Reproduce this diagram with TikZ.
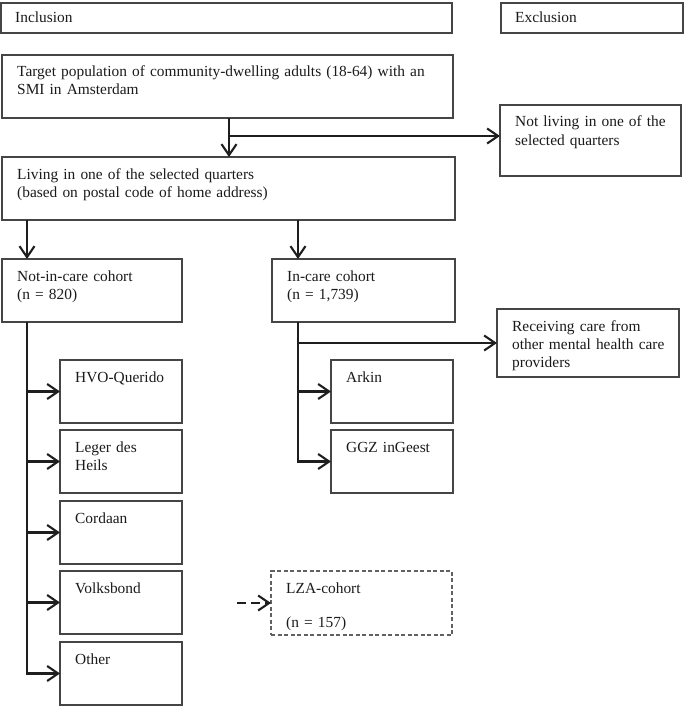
\documentclass[tikz,border=0pt]{standalone}
\usepackage{fontspec}
\setmainfont{Liberation Serif}
\usetikzlibrary{arrows.meta}
\definecolor{boxgray}{HTML}{454545}
\definecolor{arrowcol}{HTML}{1E1E1E}
\definecolor{txtcol}{HTML}{1A1A1A}
\begin{document}
\begin{tikzpicture}[x=1pt,y=-1pt,
  box/.style args={#1/#2}{draw=boxgray, line width=1.3pt, minimum width=#1pt, minimum height=#2pt,
    anchor=north west, inner sep=0pt, outer sep=0pt},
  dbox/.style args={#1/#2}{box=#1/#2, draw=boxgray!85, line width=1.2pt, dash pattern=on 4pt off 2.5pt},
  txt/.style={anchor=base west, inner sep=0pt, text width=#1pt, align=left, text=txtcol,
    font=\fontsize{15.4}{18}\selectfont},
  ln/.style={draw=arrowcol, line width=2.1pt},
  arr/.style={ln, -{Straight Barb[length=11pt,width=15pt,line width=2.1pt]}},
  darr/.style={arr, dash pattern=on 9pt off 5pt}
]
\useasboundingbox (0,0) rectangle (685,706);

% boxes
\node[box=451/30] (inc) at (1,3) {};
\node[box=182/30] (exc) at (501,3) {};
\node[box=451/63] (tp) at (2,55) {};
\node[box=181/71] (nl) at (500,105) {};
\node[box=453/63] (lv) at (2,157) {};
\node[box=180/63] (nic) at (2,259) {};
\node[box=183/63] (ic) at (272,259) {};
\node[box=182/68] (rc) at (497,309) {};
\node[box=122/63] (hvo) at (60,360) {};
\node[box=122/63] (leg) at (60,430) {};
\node[box=122/63] (cor) at (60,501) {};
\node[box=122/63] (vol) at (60,571) {};
\node[box=122/63] (oth) at (60,642) {};
\node[box=122/63] (ark) at (331,360) {};
\node[box=122/63] (ggz) at (331,430) {};
\node[dbox=181/64] (lza) at (271,571) {};

% texts
\node[txt=420] (inct) at ([xshift=14pt,yshift=-20pt]inc.north west) {Inclusion};
\node[txt=160] (exct) at ([xshift=14pt,yshift=-20pt]exc.north west) {Exclusion};
\node[txt=430] (tpt) at ([xshift=15pt,yshift=-22pt]tp.north west) {Target population of community-dwelling adults (18-64) with an\\SMI in Amsterdam};
\node[txt=165] (nlt) at ([xshift=15pt,yshift=-22pt]nl.north west) {Not living in one of the\\selected quarters};
\node[txt=430] (lvt) at ([xshift=15pt,yshift=-22pt]lv.north west) {Living in one of the selected quarters\\(based on postal code of home address)};
\node[txt=160] (nict) at ([xshift=15pt,yshift=-22pt]nic.north west) {Not-in-care cohort\\(n = 820)};
\node[txt=160] (ict) at ([xshift=15pt,yshift=-22pt]ic.north west) {In-care cohort\\(n = 1,739)};
\node[txt=165] (rct) at ([xshift=15pt,yshift=-22pt]rc.north west) {Receiving care from\\other mental health care\\providers};
\node[txt=105] (hvot) at ([xshift=15pt,yshift=-22pt]hvo.north west) {HVO-Querido};
\node[txt=105] (legt) at ([xshift=15pt,yshift=-22pt]leg.north west) {Leger des\\Heils};
\node[txt=105] (cort) at ([xshift=15pt,yshift=-22pt]cor.north west) {Cordaan};
\node[txt=105] (volt) at ([xshift=15pt,yshift=-22pt]vol.north west) {Volksbond};
\node[txt=105] (otht) at ([xshift=15pt,yshift=-22pt]oth.north west) {Other};
\node[txt=105] (arkt) at ([xshift=15pt,yshift=-22pt]ark.north west) {Arkin};
\node[txt=105] (ggzt) at ([xshift=15pt,yshift=-22pt]ggz.north west) {GGZ inGeest};
\node[txt=160] (lzat) at ([xshift=15pt,yshift=-22pt]lza.north west) {LZA-cohort\\[16pt](n = 157)};

% connector coordinates
\coordinate (br) at (229,136);
\coordinate (sL) at (27,0);
\coordinate (sR) at (298,0);
\coordinate (dz) at (237,603);

% connectors
\draw[arr] (tp.south -| br) -- (lv.north -| br);
\draw[arr] (br) -- (br -| nl.west);
\draw[arr] (lv.south -| sL) -- (nic.north -| sL);
\draw[arr] (lv.south -| sR) -- (ic.north -| sR);

\draw[ln] (nic.south -| sL) -- (oth.west -| sL);
\draw[arr] (hvo.west -| sL) -- (hvo.west);
\draw[arr] (leg.west -| sL) -- (leg.west);
\draw[arr] (cor.west -| sL) -- (cor.west);
\draw[arr] (vol.west -| sL) -- (vol.west);
\draw[arr] ([yshift=-1.05pt]oth.west -| sL) |- (oth.west);

\draw[ln] (ic.south -| sR) -- (ggz.west -| sR);
\draw[arr] (rc.west -| sR) -- (rc.west);
\draw[arr] (ark.west -| sR) -- (ark.west);
\draw[arr] ([yshift=-1.05pt]ggz.west -| sR) |- (ggz.west);

\draw[darr] (dz) -- (dz -| lza.west);
\end{tikzpicture}
\end{document}
